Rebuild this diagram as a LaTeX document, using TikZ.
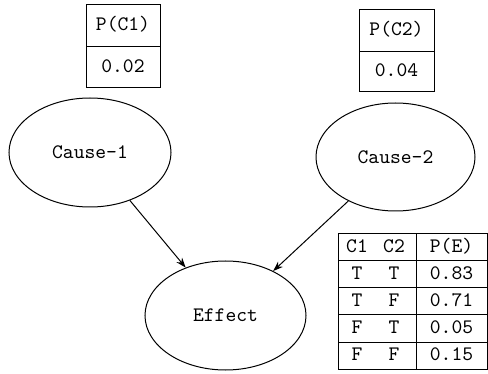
\documentclass[tikz,border=0pt]{standalone}
\usepackage{fontspec}
\usetikzlibrary{shapes.geometric,arrows.meta}
\begin{document}
\begin{tikzpicture}[x=0.5pt,y=-0.5pt, line width=0.5pt,
  every node/.style={font=\fontsize{10.3}{12}\selectfont\ttfamily},
  bnode/.style={draw, ellipse, inner sep=0pt},
  cell/.style={draw, rectangle, inner sep=0pt, text height=6.6pt, text depth=1.6pt},
  lbl/.style={inner sep=0pt, text height=6.6pt, text depth=1.6pt},
  arr/.style={-{Stealth[length=5pt,width=3.6pt]}}]
\useasboundingbox (0,0) rectangle (488,374);
% nodes of the network
\node[bnode, minimum width=81pt, minimum height=54.5pt] (c1) at (90,152.5) {Cause-1};
\node[bnode, minimum width=79.5pt, minimum height=54pt] (c2) at (395.5,157) {Cause-2};
\node[bnode, minimum width=80.5pt, minimum height=54.5pt] (eff) at (225.5,315.5) {Effect};
% prior tables
\node[cell, minimum width=37pt, minimum height=21pt] (pc1h) at (123,26) {P(C1)};
\node[cell, minimum width=37pt, minimum height=20.5pt] (pc1v) at (123,67.5) {0.02};
\node[cell, minimum width=37.5pt, minimum height=21pt] (pc2h) at (396.5,31) {P(C2)};
\node[cell, minimum width=37.5pt, minimum height=20pt] (pc2v) at (396.5,72) {0.04};
% conditional table
\foreach \i/\a/\b/\p in {0/C1/C2/P(E), 1/T/T/0.83, 2/T/F/0.71, 3/F/T/0.05, 4/F/F/0.15} {
  \node[cell, minimum width=39pt, minimum height=13.5pt] (l\i) at (377,247.5+27*\i) {};
  \node[cell, minimum width=35.5pt, minimum height=13.5pt] (r\i) at (451.5,247.5+27*\i) {\p};
  \node[lbl] (a\i) at ([xshift=-10pt]l\i.center) {\a};
  \node[lbl] (b\i) at ([xshift=8.5pt]l\i.center) {\b};
}
% connectors
\draw[arr] (c1) -- (eff);
\draw[arr] (c2) -- (eff);
\end{tikzpicture}
\end{document}
